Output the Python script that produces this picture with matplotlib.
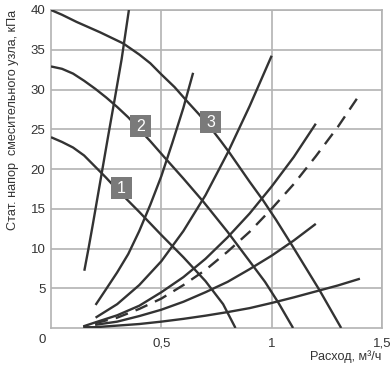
import matplotlib
matplotlib.use('Agg')
import matplotlib.pyplot as plt
from matplotlib.patches import Rectangle

plt.rcParams['font.family'] = ['Liberation Sans', 'DejaVu Sans']

# pump curves (falling), numbered 1..3
p1_x = [0, 0.05, 0.1, 0.15, 0.2, 0.25, 0.3, 0.4, 0.5, 0.6, 0.7, 0.78, 0.836]
p1_y = [24, 23.4, 22.7, 21.7, 20.3, 18.9, 17.4, 14.6, 11.7, 8.9, 5.9, 3.0, 0]
p2_x = [0, 0.05, 0.1, 0.15, 0.2, 0.25, 0.3, 0.35, 0.4, 0.45, 0.51, 0.6, 0.69, 0.8, 0.9,
        0.97, 1.03, 1.097]
p2_y = [32.9, 32.6, 32.0, 31.1, 30.1, 29.0, 27.8, 26.5, 25.0, 23.5, 21.6, 18.8, 15.9,
        12.1, 8.4, 5.8, 3.2, 0]
p3_x = [0, 0.05, 0.116, 0.222, 0.327, 0.4, 0.45, 0.5, 0.56, 0.614, 0.67, 0.72, 0.77,
        0.81, 0.9, 0.96, 1.02, 1.09, 1.217, 1.315]
p3_y = [40, 39.4, 38.5, 37.2, 35.8, 34.4, 33.3, 31.9, 30.3, 28.6, 26.9, 25.3, 23.5,
        22.0, 18.4, 16.1, 13.6, 10.5, 4.75, 0]

# system curves (rising)
a_x = [0.151, 0.17, 0.19, 0.21, 0.235, 0.26, 0.29, 0.32, 0.353]
a_y = [7.2, 10.0, 13.1, 16.3, 20.3, 24.3, 29.0, 33.8, 40.0]
b_x = [0.202, 0.25, 0.3, 0.35, 0.4, 0.45, 0.5, 0.55, 0.6, 0.644]
b_y = [2.9, 4.9, 7.0, 9.3, 12.2, 15.5, 19.1, 23.3, 27.7, 32.1]
c_x = [0.202, 0.3, 0.4, 0.5, 0.6, 0.7, 0.8, 0.9, 1.0]
c_y = [1.3, 3.0, 5.4, 8.4, 12.2, 16.7, 22.0, 27.9, 34.25]
d_x = [0.146, 0.2, 0.3, 0.4, 0.5, 0.6, 0.7, 0.8, 0.9, 1.0, 1.1, 1.2]
d_y = [0.2, 0.7, 1.6, 2.8, 4.5, 6.4, 8.7, 11.4, 14.4, 17.8, 21.5, 25.7]
dash_x = [0.2, 0.3, 0.4, 0.5, 0.6, 0.7, 0.8, 0.9, 1.0, 1.1, 1.2, 1.3, 1.39]
dash_y = [0.6, 1.3, 2.4, 3.7, 5.4, 7.3, 9.6, 12.1, 15.0, 18.1, 21.6, 25.3, 29.0]
f_x = [0.2, 0.3, 0.4, 0.5, 0.6, 0.7, 0.8, 0.9, 1.0, 1.1, 1.2]
f_y = [0.4, 0.8, 1.5, 2.3, 3.3, 4.5, 5.8, 7.4, 9.1, 11.0, 13.1]
g_x = [0.146, 0.2, 0.3, 0.4, 0.5, 0.6, 0.7, 0.8, 0.9, 1.0, 1.1, 1.2, 1.3, 1.4]
g_y = [0.1, 0.1, 0.3, 0.5, 0.8, 1.15, 1.55, 2.0, 2.5, 3.15, 3.85, 4.6, 5.35, 6.2]

# numbered marks on pump curves
mark_names = ['1', '2', '3']
mark_x = [0.319, 0.406, 0.723]
mark_y = [17.6, 25.4, 25.9]

x_ticks = [0.5, 1, 1.5]
x_tick_labels = ['0,5', '1', '1,5']
y_ticks = [5, 10, 15, 20, 25, 30, 35, 40]

LINE = '#333333'
GRID = '#b3b3b3'

fig = plt.figure(figsize=(3.92, 3.67), dpi=100)
ax = fig.add_axes([51 / 392, 1 - 328 / 367, 331 / 392, 318 / 367])

for x, y in [(p1_x, p1_y), (p2_x, p2_y), (p3_x, p3_y),
             (a_x, a_y), (b_x, b_y), (c_x, c_y), (d_x, d_y),
             (f_x, f_y), (g_x, g_y)]:
    ax.plot(x, y, color=LINE, lw=1.7, solid_capstyle='butt', solid_joinstyle='round',
            zorder=3)
ax.plot(dash_x, dash_y, color=LINE, lw=1.7, dashes=(5.5, 3.5), zorder=3)

# grey square marks with white digits
w, h = 0.098, 2.7
for name, x, y in zip(mark_names, mark_x, mark_y):
    ax.add_patch(Rectangle((x - w / 2, y - h / 2), w, h, facecolor='#7a7a7a',
                           edgecolor='none', zorder=4))
    ax.text(x, y, name, color='white', fontsize=11.5, ha='center', va='center', zorder=5)

ax.set_xlim(0, 1.5)
ax.set_ylim(0, 40)
ax.set_xticks(x_ticks)
ax.set_xticklabels(x_tick_labels)
ax.set_yticks(y_ticks)
ax.tick_params(length=0, labelsize=9.5, colors='#333333')
ax.tick_params(axis='x', pad=7)
ax.tick_params(axis='y', pad=4)
ax.grid(color=GRID, lw=1.2)
for s in ax.spines.values():
    s.set_color(GRID)
    s.set_linewidth(1.2)

fig.text(42 / 392, 1 - 340 / 367, '0', fontsize=9.5, color='#333333', ha='center', va='center')
fig.text(13 / 392, 1 - 10 / 367, 'Стат. напор  смесительного узла, кПа', rotation=90,
         fontsize=9.1, color='#333333', ha='center', va='top')
fig.text(381 / 392, 1 - 357 / 367, 'Расход, м³/ч', fontsize=9.1, color='#333333',
         ha='right', va='center')

plt.savefig('out.png', dpi=100)
